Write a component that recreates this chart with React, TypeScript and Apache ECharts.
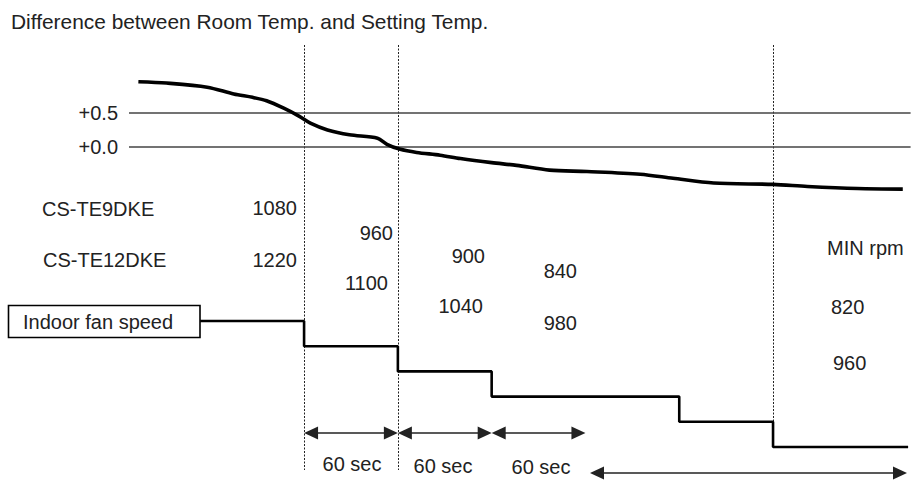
import React, { useEffect, useRef } from "react";
import * as echarts from "echarts";

// ---- data ----
const titleText = "Difference between Room Temp. and Setting Temp.";
// room temperature minus setting temperature (°C) over time (s, 0 = first step)
const timeSec = [-106, -88, -62, -45, -33, -24, -13, -3, 4, 15, 29, 47, 53, 61, 72, 87, 100, 120, 136, 157, 181, 215, 236, 262, 300, 322, 354, 383];
const tempDiff = [0.96, 0.94, 0.88, 0.78, 0.73, 0.68, 0.57, 0.45, 0.35, 0.25, 0.18, 0.13, 0.04, -0.03, -0.08, -0.12, -0.17, -0.23, -0.27, -0.34, -0.36, -0.4, -0.46, -0.53, -0.55, -0.58, -0.61, -0.62];
const refValues = [0.5, 0.0];
const refLabels = ["+0.5", "+0.0"];
// indoor fan speed step (schematic level)
const fanTime = [-66.5, 0, 60, 120, 240, 300, 386.4];
const fanLevel = [5, 4, 3, 2, 1, 0, 0];
const markerTimes = [0, 60, 120, 180, 300];
const intervalStarts = [0, 60, 120];
const intervalLabels = ["60 sec", "60 sec", "60 sec"];
const models = ["CS-TE9DKE", "CS-TE12DKE"];
const rpmTE9 = ["1080", "960", "900", "840", "820"];
const rpmTE12 = ["1220", "1100", "1040", "980", "960"];
const minLabel = "MIN rpm";
const boxLabel = "Indoor fan speed";

// ---- layout ----
const FONT = '"Liberation Sans", Arial, Helvetica, sans-serif';
const TXT = "#222";
const GL = 129, GT = 45, GW = 781.6, GH = 448.8;
const XMIN = -112, XMAX = 388;
const PXS = GW / (XMAX - XMIN);
const YMIN = -5.1, YMAX = 1.5;
const PXV = GH / (YMAX - YMIN);
const vAt = (py: number) => YMAX - (py - GT) / PXV;
const tAt = (px: number) => XMIN + (px - GL) / PXS;
// fan level axis: level 0 at y=447, 25.2px per level
const L0Y = 447, LPX = 25.2;
const LMAX = (L0Y - GT) / LPX;
const LMIN = (L0Y - (GT + GH)) / LPX;

const rpm9Pos = [[297, 208, "right"], [393, 233, "right"], [485, 256, "right"], [577, 271, "right"], [831, 307, "left"]];
const rpm12Pos = [[297, 260, "right"], [388, 283, "right"], [483, 306, "right"], [577, 323, "right"], [833, 363, "left"]];
const markerBottoms = [470, 470, 494, 494, 447];
const secLabelPos = [[352, 464], [443, 466], [541, 467]];

export default function App() {
  const ref = useRef<HTMLDivElement>(null);
  useEffect(() => {
    if (!ref.current) return;
    const chart = echarts.init(ref.current, null, { renderer: "svg" });
    const pad = 7 / PXS;
    const arrowRowV = vAt(433);
    const arrowData: any[] = intervalStarts.map((s) => [
      { coord: [s + pad, arrowRowV] },
      { coord: [s + 60 - pad, arrowRowV] },
    ]);
    const bottomV = vAt(473);
    arrowData.push([{ coord: [tAt(590) + pad, bottomV] }, { coord: [tAt(907) - pad, bottomV] }]);

    const dashData = markerTimes.map((t, i) => [
      { coord: [t, YMAX] },
      { coord: [t, vAt(markerBottoms[i])] },
    ]);

    const textEl = (text: string, x: number, y: number, align: string, size = 20) => ({
      type: "text",
      x,
      y,
      style: { text, fill: TXT, fontSize: size, fontFamily: FONT, align, verticalAlign: "middle" },
    });

    const graphics: any[] = [
      textEl(titleText, 11, 21, "left", 20.9),
      textEl(models[0], 42, 209, "left"),
      textEl(models[1], 43, 260, "left"),
      textEl(minLabel, 827, 248, "left"),
      {
        type: "rect",
        shape: { x: 8.5, y: 305.5, width: 191.5, height: 32 },
        style: { fill: "#fff", stroke: "#000", lineWidth: 1.6 },
      },
      textEl(boxLabel, 23, 322, "left"),
    ];
    rpmTE9.forEach((r, i) => graphics.push(textEl(r, rpm9Pos[i][0] as number, rpm9Pos[i][1] as number, rpm9Pos[i][2] as string)));
    rpmTE12.forEach((r, i) => graphics.push(textEl(r, rpm12Pos[i][0] as number, rpm12Pos[i][1] as number, rpm12Pos[i][2] as string)));
    intervalLabels.forEach((l, i) => graphics.push(textEl(l, secLabelPos[i][0], secLabelPos[i][1], "center")));

    chart.setOption({
      animation: false,
      backgroundColor: "#fff",
      grid: { left: GL, top: GT, width: GW, height: GH },
      xAxis: { type: "value", min: XMIN, max: XMAX, show: false },
      yAxis: [
        { type: "value", min: YMIN, max: YMAX, show: false },
        { type: "value", min: LMIN, max: LMAX, show: false },
      ],
      series: [
        {
          type: "line",
          name: "dashes",
          yAxisIndex: 0,
          data: [],
          silent: true,
          markLine: {
            silent: true,
            symbol: "none",
            label: { show: false },
            lineStyle: { color: "#222", width: 1, type: [2, 1.5] },
            data: dashData,
          },
        },
        {
          type: "line",
          name: "arrows",
          yAxisIndex: 0,
          data: [],
          silent: true,
          markLine: {
            silent: true,
            symbol: ["triangle", "triangle"],
            symbolSize: [13, 14],
            label: { show: false },
            lineStyle: { color: "#222", width: 1.6, type: "solid" },
            data: arrowData,
          },
        },
        {
          type: "line",
          name: "Room - Setting",
          yAxisIndex: 0,
          data: timeSec.map((t, i) => [t, tempDiff[i]]),
          smooth: 0.3,
          showSymbol: false,
          lineStyle: { color: "#000", width: 3.6 },
          markLine: {
            silent: true,
            symbol: "none",
            lineStyle: { color: "#444", width: 1.5, type: "solid" },
            label: {
              show: true,
              position: "start",
              distance: 11,
              fontSize: 20,
              fontFamily: FONT,
              color: TXT,
              formatter: (p: any) => refLabels[refValues.indexOf(p.value)],
            },
            data: refValues.map((v) => ({ yAxis: v })),
          },
          z: 5,
        },
        {
          type: "line",
          name: "Indoor fan speed",
          yAxisIndex: 1,
          step: "end",
          data: fanTime.map((t, i) => [t, fanLevel[i]]),
          showSymbol: false,
          lineStyle: { color: "#000", width: 2.6 },
          z: 5,
        },
      ],
      graphic: graphics,
    });
    return () => chart.dispose();
  }, []);
  return <div ref={ref} style={{ position: "fixed", left: 0, top: 0, width: 912, height: 494 }} />;
}
